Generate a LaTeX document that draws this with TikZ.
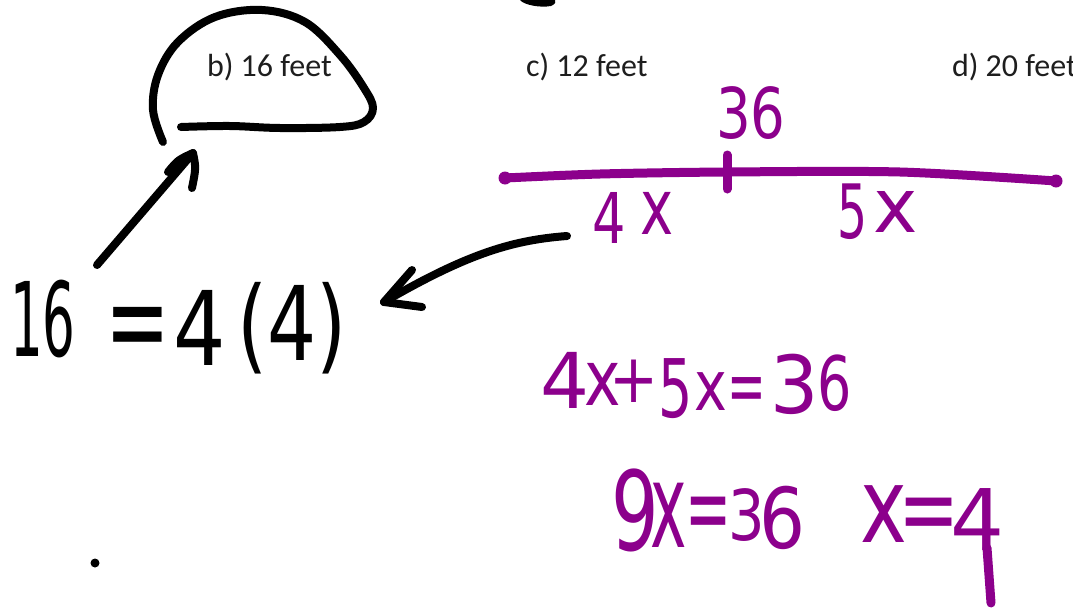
\documentclass[tikz,border=0pt]{standalone}
\usepackage{fontspec}
\setmainfont{Carlito}
\newfontfamily\hwfont{DejaVu Sans}
\usepackage{graphicx}
\definecolor{hwpurple}{RGB}{140,0,140}
\definecolor{printgray}{RGB}{30,30,30}
\newcommand\hwg[4]{{\hwfont\fontsize{#1}{#1}\selectfont\scalebox{#2}[#3]{#4}}}
\begin{document}
\begin{tikzpicture}[x=1pt,y=-1pt,
  hwb/.style={inner sep=0pt,outer sep=0pt,anchor=base west,text=black},
  hwp/.style={inner sep=0pt,outer sep=0pt,anchor=base west,text=hwpurple},
  printed/.style={inner sep=0pt,outer sep=0pt,anchor=base west,text=printgray,font=\fontsize{32}{32}\selectfont},
  inkb/.style={draw=black,line width=8pt,line cap=round,line join=round},
  inkp/.style={draw=hwpurple,line width=9pt,line cap=round,line join=round}]
\useasboundingbox (0,0) rectangle (1073,608);
\fill[white] (0,0) rectangle (1073,608);
\clip (0,0) rectangle (1073,608);

% printed answer choices
\node[printed] (optb) at (207,76) {b) 16 feet};
\node[printed] (optc) at (526,76) {c) 12 feet};
\node[printed] (optd) at (952,76) {d) 20 feet};

% cut-off mark at top
\fill[black] (520,0) .. controls (524,5) and (540,8) .. (551,6) .. controls (556,4) and (556,1) .. (555,0) -- cycle;

% loop around b)
\draw[inkb] plot[smooth,tension=0.6] coordinates {(163,142) (153,110) (158,75) (178,42) (215,17) (262,10) (305,22) (340,55) (364,88) (373,108) (364,122) (340,127) (280,128) (230,126) (181,127)};

% black handwriting: 16 = 4(4)
\node[hwb] (h16) at (10,356) {\hwg{103}{0.5}{1}{16}};
\node[hwb] (heq) at (105,363) {\hwg{103}{0.75}{1.2}{=}};
\node[hwb] (h4) at (173,365) {\hwg{103}{0.8}{1}{4}};
\node[hwb] (hp4) at (237,360) {\hwg{103}{0.75}{1}{(4)}};

% arrow from 16 to the loop
\coordinate (a1tail) at (97,265);
\coordinate (a1tip) at (193,153);
\coordinate (a1l) at (168,172);
\coordinate (a1r) at (192,188);
\draw[inkb] (a1tail) -- (a1tip);
\draw[inkb] (a1l) .. controls (178,160) .. (a1tip) .. controls (196,168) .. (a1r);

% arrow from the 4x label to 4(4)
\coordinate (a2tail) at (567,236);
\coordinate (a2tip) at (384,302);
\coordinate (a2u) at (412,270);
\coordinate (a2d) at (422,307);
\draw[inkb] (a2tail) .. controls (515,240) and (470,252) .. (a2tip);
\draw[inkb] (a2u) -- (a2tip) -- (a2d);

% dot
\fill[black] (95,563) circle (4.5);

% purple number line
\coordinate (nlL) at (505,178);
\coordinate (nlM) at (727,172);
\coordinate (nlR) at (1056,181);
\draw[inkp] plot[smooth] coordinates {(nlL) (600,174) (nlM) (900,172) (nlR)};
\fill[hwpurple] (nlL) circle (6.5);
\fill[hwpurple] (nlR) circle (6.5);
\draw[inkp] (727,155) -- (727,189);

\node[hwp] (p36) at (716,138) {\hwg{70}{0.78}{1}{36}};
\node[hwp] (p4a) at (592,243) {\hwg{70}{0.75}{1}{4}};
\node[hwp] (pxa) at (640,234) {\hwg{70}{0.8}{1.1}{x}};
\node[hwp] (p5a) at (837,238) {\hwg{75}{0.63}{1}{5}};
\node[hwp] (pxb) at (873,232) {\hwg{75}{1}{1}{x}};

% 4x+5x=36
\node[hwp] (q4) at (540,408) {\hwg{77}{1}{1}{4}};
\node[hwp] (qx1) at (584,405) {\hwg{77}{0.8}{1}{x}};
\node[hwp] (qplus) at (609,402) {\hwg{77}{0.76}{0.88}{+}};
\node[hwp] (q5) at (658,417) {\hwg{77}{0.7}{1.05}{5}};
\node[hwp] (qx2) at (694,410) {\hwg{77}{0.72}{0.9}{x}};
\node[hwp] (qeq) at (727,412) {\hwg{77}{0.6}{1}{=}};
\node[hwp] (q3) at (770,413) {\hwg{80}{0.95}{1}{3}};
\node[hwp] (q6) at (817,410) {\hwg{75}{0.72}{1}{6}};

% 9x=36
\node[hwp] (r9) at (611,550) {\hwg{110}{0.68}{1}{9}};
\node[hwp] (rx) at (650,547) {\hwg{110}{0.56}{1.07}{x}};
\node[hwp] (req) at (685,542) {\hwg{100}{0.55}{1}{=}};
\node[hwp] (r3) at (728,540) {\hwg{70}{0.82}{1}{3}};
\node[hwp] (r6) at (759,548) {\hwg{84}{0.86}{1}{6}};

% x=4
\node[hwp] (sx) at (860,542) {\hwg{100}{0.79}{1.04}{x}};
\node[hwp] (seq) at (898,543) {\hwg{100}{0.73}{1}{=}};
\node[hwp] (s4) at (950,550) {\hwg{85}{1}{1}{4}};
\draw[inkp] (987,548) -- (991,603);
\end{tikzpicture}
\end{document}
